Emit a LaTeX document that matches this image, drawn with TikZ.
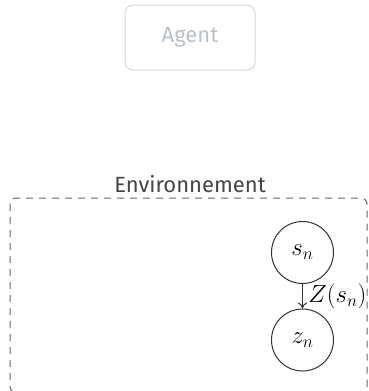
\documentclass[tikz,border=0pt]{standalone}
\usepackage{fontspec}
\setmainfont{Fira Sans}
\usetikzlibrary{arrows.meta}

\definecolor{agentgray}{HTML}{B9C1C8}
\definecolor{agentline}{HTML}{D2D8DD}
\definecolor{envgray}{HTML}{444444}
\definecolor{dashgray}{HTML}{666666}

\begin{document}
\begin{tikzpicture}[x=1pt,y=-1pt]

      \useasboundingbox (0,0) rectangle (369,391);

      % agent
      \node[draw=agentline,line width=1pt,rounded corners=8pt,
            minimum width=130pt,minimum height=65pt,
            text=agentgray,font=\fontsize{22}{26}\selectfont] (agent) at (190,37.5) {Agent};

      % environnement
      \node[text=envgray,font=\fontsize{22}{26}\selectfont] (envlabel) at (190,184) {Environnement};
      \draw[dashgray,line width=1pt,dash pattern=on 7pt off 6pt,rounded corners=6pt]
        (10,198) rectangle (367,392.5);

      \begin{scope}[every node/.style={circle,draw=black!80,line width=1pt,
                    minimum size=62pt,inner sep=0pt,font=\fontsize{26}{30}\selectfont}]
        \node (sn) at (302.5,252.5) {$s_n$};
        \node (zn) at (302.5,340)   {$z_n$};
      \end{scope}

      \path[draw=black!80,line width=1pt,-{To[length=6pt,width=9pt]}]
        (sn) edge node[right=2pt,font=\fontsize{26}{30}\selectfont] {$Z(s_n)$} (zn);

    \end{tikzpicture}
\end{document}
